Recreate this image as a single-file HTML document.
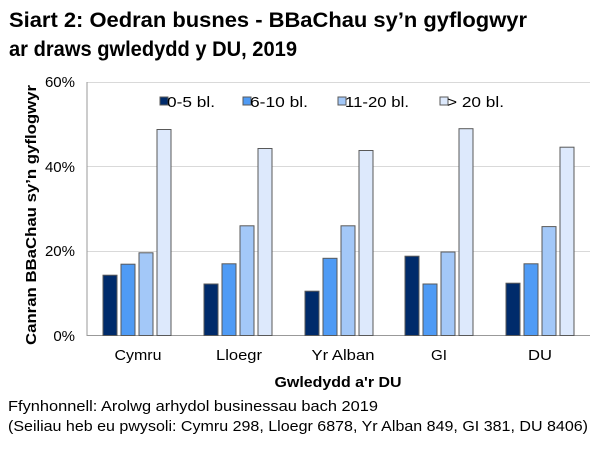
<!DOCTYPE html>
<html><head><meta charset="utf-8"><style>
html,body{margin:0;padding:0;background:#fff;}
svg{display:block;font-family:"Liberation Sans",Arial,sans-serif;}
</style></head><body>
<svg width="609" height="451" viewBox="0 0 609 451" xmlns="http://www.w3.org/2000/svg">
<text x="9" y="27" font-size="21" font-weight="bold" textLength="518" lengthAdjust="spacingAndGlyphs">Siart 2: Oedran busnes - BBaChau sy’n gyflogwyr</text>
<text x="9" y="56" font-size="21" font-weight="bold" textLength="288" lengthAdjust="spacingAndGlyphs">ar draws gwledydd y DU, 2019</text>
<g stroke="#d9d9d9" stroke-width="1">
<line x1="87" y1="82.5" x2="590" y2="82.5"/>
<line x1="87" y1="166.5" x2="590" y2="166.5"/>
<line x1="87" y1="251.5" x2="590" y2="251.5"/>
</g>
<g font-size="15" text-anchor="end" fill="#000">
<text x="75" y="87">60%</text>
<text x="75" y="172">40%</text>
<text x="75" y="256">20%</text>
<text x="75" y="341">0%</text>
</g>
<line x1="87" y1="82" x2="87" y2="336" stroke="#999"/>
<line x1="87" y1="335.5" x2="590" y2="335.5" stroke="#999"/>
<g font-size="15" text-anchor="middle">
<text x="138" y="360" textLength="47" lengthAdjust="spacingAndGlyphs">Cymru</text>
<text x="239" y="360" textLength="46" lengthAdjust="spacingAndGlyphs">Lloegr</text>
<text x="343" y="360" textLength="63" lengthAdjust="spacingAndGlyphs">Yr Alban</text>
<text x="439" y="360" textLength="16" lengthAdjust="spacingAndGlyphs">GI</text>
<text x="540" y="360" textLength="24" lengthAdjust="spacingAndGlyphs">DU</text>
</g>
<text x="338" y="387" font-size="15" font-weight="bold" text-anchor="middle" textLength="127" lengthAdjust="spacingAndGlyphs">Gwledydd a'r DU</text>
<text transform="translate(36,215) rotate(-90)" font-size="15" font-weight="bold" text-anchor="middle" textLength="260" lengthAdjust="spacingAndGlyphs">Canran BBaChau sy’n gyflogwyr</text>
<g font-size="15">
<rect x="160" y="97" width="8" height="8" fill="#002b6b" stroke="#595959"/><text x="167" y="107" textLength="48" lengthAdjust="spacingAndGlyphs">0-5 bl.</text>
<rect x="243" y="97" width="8" height="8" fill="#4f9bf5" stroke="#595959"/><text x="250" y="107" textLength="58" lengthAdjust="spacingAndGlyphs">6-10 bl.</text>
<rect x="338" y="97" width="8" height="8" fill="#a3c8f8" stroke="#595959"/><text x="345" y="107" textLength="64" lengthAdjust="spacingAndGlyphs">11-20 bl.</text>
<rect x="440" y="97" width="8" height="8" fill="#dde9fc" stroke="#595959"/><text x="447" y="107" textLength="57" lengthAdjust="spacingAndGlyphs">&gt; 20 bl.</text>
</g>
<g font-size="15">
<text x="8" y="411" textLength="370" lengthAdjust="spacingAndGlyphs">Ffynhonnell: Arolwg arhydol businessau bach 2019</text>
<text x="8" y="431" textLength="580" lengthAdjust="spacingAndGlyphs">(Seiliau heb eu pwysoli: Cymru 298, Lloegr 6878, Yr Alban 849, GI 381, DU 8406)</text>
</g>
<g stroke="#595959" stroke-width="1">
<rect x="103" y="275.2" width="14" height="60.3" fill="#002b6b"/>
<rect x="121" y="264.2" width="14" height="71.3" fill="#4f9bf5"/>
<rect x="139" y="252.8" width="14" height="82.7" fill="#a3c8f8"/>
<rect x="157" y="129.5" width="14" height="206" fill="#dde9fc"/>
<rect x="204" y="284" width="14" height="51.5" fill="#002b6b"/>
<rect x="222" y="263.8" width="14" height="71.7" fill="#4f9bf5"/>
<rect x="240" y="225.8" width="14" height="109.7" fill="#a3c8f8"/>
<rect x="258" y="148.5" width="14" height="187" fill="#dde9fc"/>
<rect x="305" y="291.2" width="14" height="44.3" fill="#002b6b"/>
<rect x="323" y="258.3" width="14" height="77.2" fill="#4f9bf5"/>
<rect x="341" y="225.8" width="14" height="109.7" fill="#a3c8f8"/>
<rect x="359" y="150.5" width="14" height="185" fill="#dde9fc"/>
<rect x="405" y="256.2" width="14" height="79.3" fill="#002b6b"/>
<rect x="423" y="284" width="14" height="51.5" fill="#4f9bf5"/>
<rect x="441" y="252" width="14" height="83.5" fill="#a3c8f8"/>
<rect x="459" y="128.7" width="14" height="206.8" fill="#dde9fc"/>
<rect x="506" y="283.2" width="14" height="52.3" fill="#002b6b"/>
<rect x="524" y="263.8" width="14" height="71.7" fill="#4f9bf5"/>
<rect x="542" y="226.6" width="14" height="108.9" fill="#a3c8f8"/>
<rect x="560" y="147.2" width="14" height="188.3" fill="#dde9fc"/>
</g>
</svg>
</body></html>
